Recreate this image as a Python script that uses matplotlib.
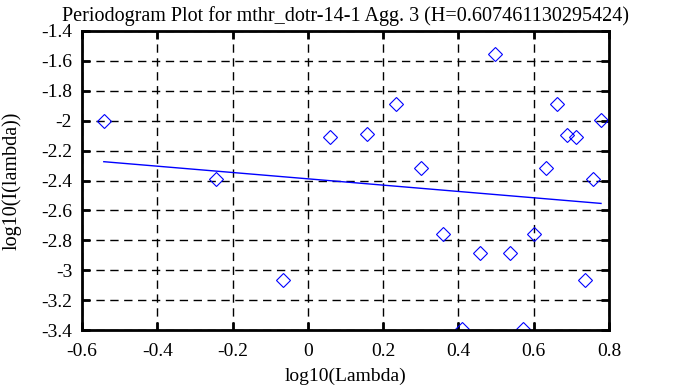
import matplotlib
matplotlib.use("Agg")
import matplotlib.pyplot as plt
from matplotlib.ticker import FuncFormatter

plt.rcParams['font.family'] = ['Liberation Serif', 'DejaVu Serif']
plt.rcParams['axes.unicode_minus'] = False

# periodogram points (log10 lambda, log10 I(lambda))
log_lambda = [-0.542, -0.244, -0.066, 0.059, 0.157, 0.234, 0.300, 0.359, 0.457, 0.410, 0.497,
              0.537, 0.572, 0.600, 0.633, 0.662, 0.689, 0.712, 0.736, 0.758, 0.779]
log_I = [-2.00, -2.39, -3.066, -2.109, -2.089, -1.888, -2.316, -2.758, -2.885, -3.39, -1.554,
         -2.885, -3.39, -2.758, -2.316, -1.888, -2.096, -2.109, -3.066, -2.39, -1.995]

# fitted regression line
fit_x = [-0.542, 0.779]
fit_y = [-2.274, -2.553]

H = 0.607461130295424

fig = plt.figure(figsize=(6.73, 3.87), dpi=100)
ax = fig.add_axes([0.1218, 0.147, 0.783, 0.773])

ax.plot(log_lambda, log_I, linestyle='none', marker='D', ms=7.2,
        markerfacecolor='none', markeredgecolor='blue', markeredgewidth=0.8)
ax.plot(fit_x, fit_y, color='blue', linewidth=1)

ax.set_xlim(-0.6, 0.8)
ax.set_ylim(-3.4, -1.4)
ax.set_xticks([-0.6, -0.4, -0.2, 0, 0.2, 0.4, 0.6, 0.8])
ax.set_yticks([-3.4, -3.2, -3, -2.8, -2.6, -2.4, -2.2, -2, -1.8, -1.6, -1.4])
fmt = FuncFormatter(lambda v, p: '%g' % round(v, 2))
ax.xaxis.set_major_formatter(fmt)
ax.yaxis.set_major_formatter(fmt)

ax.grid(True, color='black', linestyle=(0, (6, 4)), linewidth=1)
ax.tick_params(direction='in', length=6, width=2, top=True, right=True,
               labelsize=14, colors='black')
ax.tick_params(axis='x', pad=9)
ax.tick_params(axis='y', pad=7)
for s in ax.spines.values():
    s.set_linewidth(2)

ax.set_xlabel('log10(Lambda)', fontsize=14, labelpad=6)
ax.set_ylabel('log10(I(lambda))', fontsize=14.5, labelpad=14)
ax.set_title('Periodogram Plot for mthr_dotr-14-1 Agg. 3 (H=%s)' % repr(H), fontsize=14.5, pad=7)

fig.savefig('out.png', dpi=100)
